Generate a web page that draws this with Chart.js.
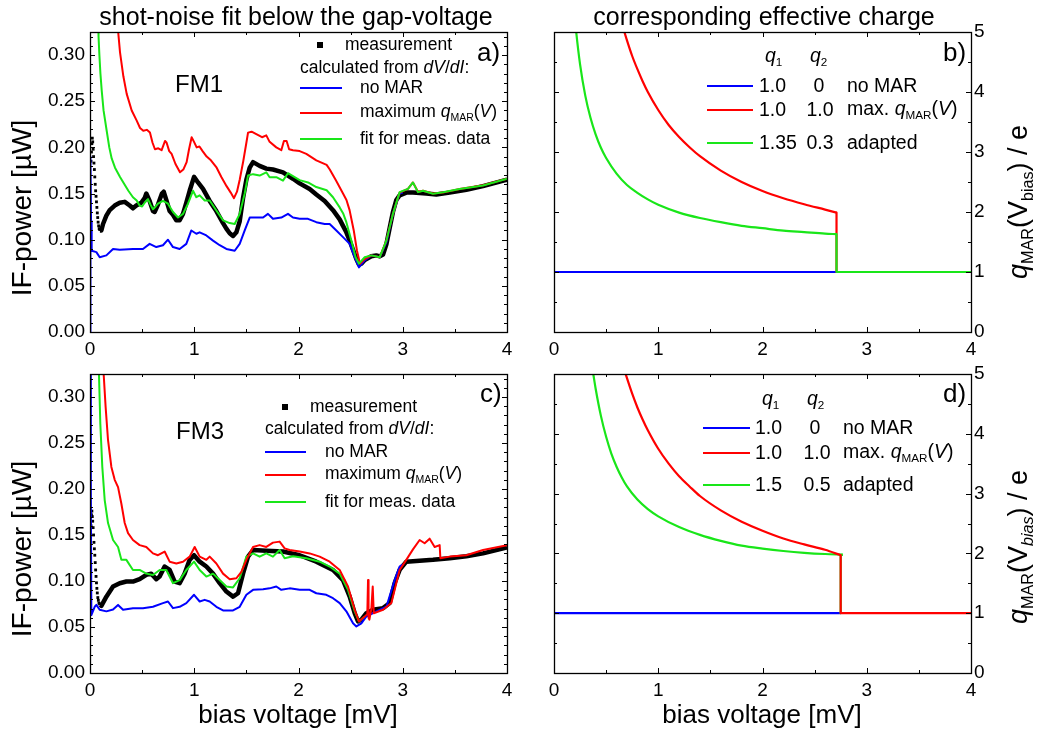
<!DOCTYPE html>
<html>
<head>
<meta charset="utf-8">
<script src="https://cdn.jsdelivr.net/npm/chart.js@4"></script>
<style>
  html, body { margin: 0; padding: 0; background: #fff; }
  #fig { position: relative; width: 1037px; height: 733px; overflow: hidden; background: #fff;
         font-family: "Liberation Sans", Arial, Helvetica, sans-serif; color: #000; }
  #fig canvas { position: absolute; left: 0; top: 0; }
  .t { position: absolute; white-space: nowrap; line-height: 1; }
  .sub { font-size: 0.6em; vertical-align: -0.35em; }
  .key { position: absolute; height: 2px; }
</style>
</head>
<body>
<div id="fig">
  <canvas id="cA" width="1037" height="733"></canvas>
  <canvas id="cB" width="1037" height="733"></canvas>
  <canvas id="cC" width="1037" height="733"></canvas>
  <canvas id="cD" width="1037" height="733"></canvas>
</div>
<script>
// ---------------- data: [bias voltage (mV), value] ----------------
// FM1: IF power (µW)
const fm1MeasLine = [[0.095,0.110],[0.109,0.110],[0.125,0.117],[0.157,0.126],[0.189,0.132],[0.237,0.137],[0.285,0.140],[0.333,0.141],[0.381,0.137],[0.412,0.134],[0.444,0.137],[0.492,0.140],[0.524,0.145],[0.540,0.150],[0.572,0.142],[0.604,0.131],[0.620,0.130],[0.652,0.138],[0.690,0.150],[0.707,0.152],[0.732,0.143],[0.764,0.131],[0.796,0.127],[0.828,0.121],[0.860,0.121],[0.892,0.128],[0.924,0.140],[0.956,0.153],[0.998,0.168],[1.036,0.162],[1.084,0.155],[1.148,0.142],[1.212,0.131],[1.276,0.118],[1.308,0.112],[1.340,0.107],[1.372,0.104],[1.404,0.108],[1.436,0.120],[1.468,0.145],[1.500,0.165],[1.532,0.178],[1.564,0.184],[1.627,0.180],[1.691,0.177],[1.755,0.176],[1.851,0.173],[1.947,0.166],[2.011,0.161],[2.107,0.155],[2.171,0.149],[2.251,0.142],[2.331,0.132],[2.395,0.122],[2.427,0.115],[2.459,0.108],[2.491,0.099],[2.523,0.089],[2.555,0.079],[2.580,0.073],[2.603,0.074],[2.635,0.078],[2.699,0.082],[2.747,0.083],[2.779,0.082],[2.811,0.084],[2.843,0.095],[2.875,0.113],[2.906,0.130],[2.938,0.143],[2.970,0.148],[3.034,0.151],[3.098,0.151],[3.226,0.150],[3.322,0.149],[3.450,0.151],[3.610,0.154],[3.770,0.158],[4.0,0.165]];
const fm1MeasDots = [[0.010,0.185],[0.014,0.195],[0.018,0.204],[0.022,0.210],[0.026,0.206],[0.030,0.198],[0.034,0.190],[0.038,0.183],[0.042,0.176],[0.046,0.168],[0.050,0.160],[0.054,0.153],[0.058,0.147],[0.062,0.141],[0.066,0.135],[0.070,0.129],[0.074,0.124],[0.078,0.119],[0.083,0.115],[0.088,0.112],[0.093,0.111]];
const fm1NoMar = [[0,0],[0.004,0.19],[0.010,0.12],[0.016,0.088],[0.061,0.0865],[0.093,0.081],[0.157,0.083],[0.221,0.090],[0.285,0.089],[0.412,0.090],[0.508,0.090],[0.572,0.0955],[0.636,0.092],[0.700,0.094],[0.748,0.100],[0.796,0.092],[0.860,0.090],[0.924,0.0955],[0.972,0.110],[1.020,0.1064],[1.052,0.108],[1.116,0.1046],[1.180,0.099],[1.244,0.094],[1.308,0.090],[1.388,0.088],[1.436,0.0955],[1.484,0.110],[1.532,0.124],[1.596,0.124],[1.660,0.124],[1.707,0.128],[1.755,0.1226],[1.835,0.124],[1.899,0.128],[1.947,0.124],[2.011,0.1226],[2.091,0.1226],[2.171,0.119],[2.251,0.117],[2.299,0.117],[2.363,0.110],[2.427,0.1028],[2.491,0.0955],[2.539,0.081],[2.580,0.070],[2.635,0.0775],[2.699,0.083],[2.779,0.081],[2.843,0.097],[2.906,0.128],[2.970,0.150],[3.0,0.151]];
const fm1MaxMar = [[0.262,0.34],[0.272,0.323],[0.288,0.303],[0.32,0.277],[0.352,0.258],[0.40,0.24],[0.448,0.229],[0.48,0.221],[0.511,0.218],[0.545,0.219],[0.575,0.216],[0.60,0.205],[0.623,0.198],[0.655,0.199],[0.687,0.197],[0.72,0.207],[0.735,0.205],[0.76,0.196],[0.783,0.193],[0.82,0.182],[0.863,0.173],[0.895,0.176],[0.927,0.184],[0.95,0.198],[0.975,0.211],[0.998,0.206],[1.023,0.200],[1.05,0.201],[1.08,0.196],[1.119,0.190],[1.16,0.186],[1.215,0.178],[1.26,0.168],[1.31,0.158],[1.35,0.151],[1.381,0.145],[1.41,0.152],[1.436,0.165],[1.47,0.185],[1.50,0.205],[1.516,0.216],[1.55,0.217],[1.6,0.214],[1.65,0.211],[1.691,0.213],[1.723,0.206],[1.787,0.200],[1.835,0.197],[1.86,0.207],[1.886,0.207],[1.91,0.198],[1.947,0.197],[2.011,0.196],[2.075,0.193],[2.171,0.186],[2.27,0.181],[2.30,0.176],[2.36,0.164],[2.427,0.150],[2.46,0.143],[2.49,0.132],[2.53,0.110],[2.561,0.088],[2.59,0.074],[2.635,0.079],[2.699,0.083],[2.779,0.081],[2.843,0.099],[2.906,0.128],[2.970,0.151],[3.050,0.155],[3.098,0.162],[3.146,0.152],[3.194,0.153],[3.290,0.150],[3.386,0.151],[3.546,0.155],[3.770,0.159],[4.0,0.166]];
const fm1Fit = [[0.078,0.34],[0.082,0.32],[0.090,0.30],[0.100,0.28],[0.112,0.262],[0.130,0.24],[0.160,0.218],[0.185,0.200],[0.208,0.188],[0.240,0.178],[0.288,0.168],[0.330,0.160],[0.368,0.153],[0.412,0.146],[0.448,0.1425],[0.476,0.137],[0.500,0.136],[0.524,0.140],[0.556,0.144],[0.580,0.138],[0.604,0.133],[0.630,0.136],[0.652,0.139],[0.700,0.142],[0.748,0.139],[0.796,0.130],[0.844,0.124],[0.892,0.128],[0.940,0.139],[0.988,0.153],[1.020,0.146],[1.052,0.148],[1.100,0.1425],[1.148,0.1425],[1.212,0.1316],[1.276,0.121],[1.340,0.118],[1.388,0.117],[1.436,0.128],[1.484,0.150],[1.516,0.1695],[1.564,0.171],[1.627,0.1695],[1.691,0.173],[1.723,0.1677],[1.787,0.1677],[1.851,0.164],[1.899,0.172],[1.963,0.1677],[2.011,0.1645],[2.091,0.162],[2.171,0.157],[2.270,0.1536],[2.331,0.146],[2.395,0.135],[2.430,0.128],[2.459,0.119],[2.507,0.099],[2.548,0.081],[2.580,0.074],[2.635,0.081],[2.699,0.083],[2.779,0.081],[2.843,0.099],[2.906,0.128],[2.970,0.1515],[3.050,0.155],[3.098,0.162],[3.146,0.1515],[3.194,0.153],[3.290,0.1497],[3.386,0.1515],[3.546,0.155],[3.770,0.1587],[4.0,0.166]];

// FM3: IF power (µW)
const fm3MeasLine = [[0.100,0.074],[0.109,0.073],[0.157,0.083],[0.221,0.094],[0.285,0.0976],[0.349,0.0994],[0.412,0.0994],[0.476,0.102],[0.540,0.1066],[0.588,0.108],[0.636,0.102],[0.668,0.1048],[0.716,0.1157],[0.764,0.112],[0.812,0.0994],[0.860,0.0976],[0.908,0.108],[0.956,0.123],[0.998,0.128],[1.052,0.121],[1.116,0.1157],[1.180,0.108],[1.244,0.0976],[1.308,0.0885],[1.372,0.083],[1.420,0.0867],[1.468,0.108],[1.516,0.1265],[1.564,0.1337],[1.691,0.133],[1.851,0.132],[2.011,0.128],[2.171,0.121],[2.331,0.112],[2.427,0.101],[2.491,0.083],[2.539,0.065],[2.571,0.056],[2.603,0.058],[2.651,0.065],[2.715,0.0687],[2.811,0.0705],[2.875,0.076],[2.922,0.0976],[2.970,0.112],[3.034,0.121],[3.162,0.122],[3.290,0.123],[3.450,0.1247],[3.610,0.127],[3.770,0.130],[4.0,0.1366]];
const fm3MeasDots = [[0.010,0.160],[0.014,0.172],[0.018,0.176],[0.022,0.170],[0.026,0.165],[0.030,0.158],[0.034,0.150],[0.038,0.142],[0.042,0.135],[0.046,0.128],[0.050,0.120],[0.054,0.112],[0.058,0.105],[0.062,0.098],[0.066,0.092],[0.070,0.087],[0.075,0.082],[0.080,0.079],[0.086,0.076],[0.092,0.075]];
const fm3NoMar = [[0.002,0.34],[0.008,0.20],[0.013,0.063],[0.045,0.072],[0.061,0.074],[0.093,0.0687],[0.157,0.067],[0.221,0.069],[0.269,0.074],[0.317,0.0687],[0.412,0.0705],[0.508,0.0705],[0.604,0.072],[0.700,0.076],[0.748,0.0777],[0.796,0.0705],[0.860,0.072],[0.924,0.076],[0.998,0.085],[1.052,0.0777],[1.100,0.0795],[1.148,0.0777],[1.212,0.072],[1.276,0.068],[1.372,0.068],[1.436,0.072],[1.500,0.085],[1.564,0.0904],[1.660,0.091],[1.723,0.092],[1.787,0.094],[1.835,0.0904],[1.915,0.092],[2.011,0.0904],[2.107,0.0904],[2.171,0.0867],[2.267,0.085],[2.331,0.0813],[2.395,0.076],[2.459,0.067],[2.523,0.054],[2.555,0.0506],[2.603,0.054],[2.651,0.0614],[2.747,0.067],[2.843,0.072],[2.922,0.101],[2.970,0.1157],[3.0,0.118]];
const fm3MaxMar = [[0.125,0.34],[0.131,0.325],[0.150,0.289],[0.173,0.253],[0.205,0.224],[0.237,0.210],[0.269,0.202],[0.301,0.184],[0.333,0.163],[0.365,0.152],[0.412,0.1446],[0.476,0.139],[0.540,0.137],[0.604,0.130],[0.652,0.128],[0.716,0.132],[0.764,0.121],[0.828,0.119],[0.892,0.121],[0.956,0.1265],[1.004,0.137],[1.052,0.1265],[1.116,0.123],[1.148,0.1265],[1.212,0.119],[1.276,0.108],[1.340,0.102],[1.404,0.103],[1.452,0.110],[1.500,0.123],[1.564,0.137],[1.627,0.139],[1.691,0.137],[1.755,0.1417],[1.819,0.1428],[1.867,0.1355],[1.915,0.1337],[2.011,0.132],[2.107,0.130],[2.203,0.1265],[2.299,0.121],[2.395,0.112],[2.475,0.094],[2.539,0.0687],[2.580,0.056],[2.635,0.0614],[2.660,0.064],[2.667,0.101],[2.672,0.060],[2.680,0.058],[2.699,0.070],[2.712,0.094],[2.722,0.065],[2.747,0.066],[2.811,0.0687],[2.891,0.076],[2.938,0.0976],[2.970,0.112],[3.034,0.123],[3.098,0.1344],[3.162,0.1446],[3.210,0.141],[3.258,0.146],[3.306,0.137],[3.354,0.139],[3.361,0.1247],[3.450,0.1265],[3.610,0.128],[3.770,0.1337],[4.0,0.139]];
const fm3Fit = [[0.083,0.34],[0.086,0.325],[0.099,0.271],[0.118,0.224],[0.141,0.188],[0.173,0.163],[0.221,0.1446],[0.269,0.137],[0.301,0.123],[0.349,0.123],[0.412,0.112],[0.476,0.112],[0.540,0.108],[0.604,0.1066],[0.668,0.112],[0.732,0.112],[0.796,0.0976],[0.860,0.101],[0.924,0.112],[0.998,0.121],[1.052,0.112],[1.116,0.1048],[1.180,0.108],[1.244,0.101],[1.308,0.094],[1.372,0.093],[1.436,0.103],[1.500,0.1265],[1.564,0.130],[1.627,0.1265],[1.691,0.130],[1.755,0.1265],[1.819,0.1337],[1.867,0.1247],[1.947,0.127],[2.075,0.1247],[2.203,0.121],[2.299,0.1157],[2.395,0.108],[2.475,0.0904],[2.539,0.067],[2.580,0.056],[2.635,0.0614]];

// FM1: effective charge q_MAR / e
const fm1QNoMar = [[0,1],[2.71,1]];
const fm1QMax = [[0.66,5.09],[0.70,4.86],[0.75,4.60],[0.80,4.38],[0.85,4.18],[0.90,4.00],[1.00,3.70],[1.10,3.45],[1.20,3.25],[1.30,3.08],[1.40,2.93],[1.60,2.69],[1.80,2.50],[2.00,2.35],[2.20,2.23],[2.40,2.13],[2.60,2.04],[2.71,1.99]];
const fm1QMaxStep = [[2.71,1.99],[2.71,1],[4,1]];
const fm1QFit = [[0.20,5.24],[0.213,5.0],[0.25,4.46],[0.30,3.94],[0.35,3.57],[0.40,3.29],[0.45,3.07],[0.50,2.90],[0.60,2.64],[0.70,2.45],[0.80,2.32],[0.90,2.21],[1.00,2.12],[1.20,1.99],[1.40,1.90],[1.60,1.83],[1.80,1.77],[2.00,1.73],[2.20,1.69],[2.40,1.665],[2.60,1.64],[2.71,1.63]];
const fm1QFitStep = [[2.71,1.63],[2.71,1],[4,1]];

// FM3: effective charge q_MAR / e
const fm3QNoMar = [[0,1],[2.75,1]];
const fm3QMax = [[0.68,5.04],[0.70,4.93],[0.75,4.67],[0.80,4.44],[0.85,4.24],[0.90,4.06],[1.00,3.75],[1.10,3.50],[1.20,3.29],[1.30,3.12],[1.40,2.96],[1.60,2.72],[1.80,2.53],[2.00,2.38],[2.20,2.25],[2.40,2.15],[2.60,2.06],[2.75,1.97]];
const fm3QMaxStep = [[2.75,1.97],[2.75,1],[4,1]];
const fm3QFit = [[0.377,5.0],[0.40,4.75],[0.45,4.30],[0.50,3.95],[0.55,3.67],[0.60,3.45],[0.65,3.27],[0.70,3.12],[0.80,2.90],[0.90,2.74],[1.00,2.62],[1.20,2.44],[1.40,2.31],[1.60,2.21],[1.80,2.13],[2.00,2.08],[2.20,2.04],[2.40,2.01],[2.60,1.99],[2.77,1.98]];
const fm3QFitStep = [[2.77,1.98],[2.75,1.97],[2.75,1]];

// axis ranges
const biasRange = [0, 4];
const powerRange = [0, 0.325];
const chargeRange = [0, 5];

// ---------------- drawing ----------------
const BLUE = '#0000ff', RED = '#ff0000', GREEN = '#19e619', BLACK = '#000000';
Chart.defaults.font.family = '"Liberation Sans", Arial, Helvetica, sans-serif';
Chart.defaults.font.size = 19;
Chart.defaults.color = '#000';

const pts = arr => arr.map(([x, y]) => ({ x, y }));

function line(data, color, width, extra) {
  return Object.assign({ data: pts(data), showLine: true, borderColor: color, backgroundColor: color,
    borderWidth: width, pointRadius: 0, tension: 0, borderJoinStyle: 'round', borderCapStyle: 'butt' }, extra || {});
}
function dots(data) {
  return { data: pts(data), showLine: false, pointStyle: 'rect', pointRadius: 2,
    backgroundColor: BLACK, borderColor: BLACK, borderWidth: 0 };
}

// box frame with inward ticks on all four sides
const framePlugin = {
  id: 'frame',
  afterDatasetsDraw(chart, args, o) {
    const { ctx, chartArea: a, scales: { x, y } } = chart;
    ctx.save();
    ctx.strokeStyle = '#000';
    ctx.lineWidth = 1;
    ctx.beginPath();
    const nx = Math.round((x.max - x.min) / o.xMinor);
    for (let i = 0; i <= nx; i++) {
      const v = x.min + i * o.xMinor;
      const major = Math.abs(v / o.xMajor - Math.round(v / o.xMajor)) < 1e-6;
      const len = major ? 5 : 3;
      const px = Math.round(x.getPixelForValue(v)) + 0.5;
      ctx.moveTo(px, a.bottom); ctx.lineTo(px, a.bottom - len);
      ctx.moveTo(px, a.top); ctx.lineTo(px, a.top + len);
    }
    const ny = Math.floor((y.max - y.min) / o.yMinor + 1e-6);
    for (let i = 0; i <= ny; i++) {
      const v = y.min + i * o.yMinor;
      const major = Math.abs(v / o.yMajor - Math.round(v / o.yMajor)) < 1e-6;
      const len = major ? 5 : 3;
      const py = Math.round(y.getPixelForValue(v)) + 0.5;
      ctx.moveTo(a.left, py); ctx.lineTo(a.left + len, py);
      ctx.moveTo(a.right, py); ctx.lineTo(a.right - len, py);
    }
    ctx.stroke();
    ctx.lineWidth = 1.3;
    ctx.strokeRect(Math.round(a.left) + 0.5, Math.round(a.top) + 0.5,
                   Math.round(a.right - a.left), Math.round(a.bottom - a.top));
    ctx.restore();
  }
};

function makeChart(id, datasets, cfg) {
  const isPower = cfg.kind === 'power';
  return new Chart(document.getElementById(id), {
    type: 'scatter',
    data: { datasets },
    plugins: [framePlugin],
    options: {
      responsive: false, animation: false, devicePixelRatio: 1,
      layout: { padding: cfg.padding },
      plugins: { legend: { display: false }, tooltip: { enabled: false },
        frame: isPower ? { xMinor: 0.5, xMajor: 1, yMinor: 0.01, yMajor: 0.05 }
                       : { xMinor: 0.5, xMajor: 1, yMinor: 0.5, yMajor: 1 } },
      scales: {
        x: {
          type: 'linear', min: biasRange[0], max: biasRange[1],
          grid: { display: false, drawTicks: false }, border: { display: false },
          ticks: { stepSize: 1, padding: 6, callback: v => String(v), maxRotation: 0 },
          afterFit: s => { s.height = cfg.xHeight; }
        },
        y: {
          type: 'linear', position: isPower ? 'left' : 'right',
          min: isPower ? powerRange[0] : chargeRange[0], max: isPower ? powerRange[1] : chargeRange[1],
          grid: { display: false, drawTicks: false }, border: { display: false },
          ticks: isPower
            ? { stepSize: 0.05, padding: 5, autoSkip: false,
                callback: v => (Math.abs(v / 0.05 - Math.round(v / 0.05)) < 1e-6 ? v.toFixed(2) : '') }
            : { stepSize: 1, padding: 3, callback: v => String(v) },
          afterFit: s => { s.width = cfg.yWidth; }
        }
      }
    }
  });
}

// a) FM1 IF power
makeChart('cA', [
  line(fm1Fit, GREEN, 2),
  line(fm1MaxMar, RED, 2),
  line(fm1NoMar, BLUE, 2),
  dots(fm1MeasDots),
  line(fm1MeasLine, BLACK, 4.5)
], { kind: 'power', padding: { left: 0, right: 530, top: 32, bottom: 373 }, xHeight: 28, yWidth: 90 });

// b) FM1 effective charge
makeChart('cB', [
  line(fm1QFitStep, GREEN, 2.2),
  line(fm1QFit, GREEN, 2.2, { cubicInterpolationMode: 'monotone' }),
  line(fm1QMaxStep, RED, 2.2),
  line(fm1QMax, RED, 2.2, { cubicInterpolationMode: 'monotone' }),
  line(fm1QNoMar, BLUE, 2.2)
], { kind: 'charge', padding: { left: 554, right: 0, top: 32, bottom: 373 }, xHeight: 28, yWidth: 66 });

// c) FM3 IF power
makeChart('cC', [
  line(fm3MaxMar, RED, 2),
  line(fm3Fit, GREEN, 2),
  line(fm3NoMar, BLUE, 2),
  dots(fm3MeasDots),
  line(fm3MeasLine, BLACK, 4.5)
], { kind: 'power', padding: { left: 0, right: 530, top: 374, bottom: 0 }, xHeight: 60, yWidth: 90 });

// d) FM3 effective charge
makeChart('cD', [
  line(fm3QMaxStep, RED, 2.2),
  line(fm3QMax, RED, 2.2, { cubicInterpolationMode: 'monotone' }),
  line(fm3QFitStep, GREEN, 2.2),
  line(fm3QFit, GREEN, 2.2, { cubicInterpolationMode: 'monotone' }),
  line(fm3QNoMar, BLUE, 2.2)
], { kind: 'charge', padding: { left: 554, right: 0, top: 374, bottom: 0 }, xHeight: 60, yWidth: 66 });

// ---------------- text, legends ----------------
const fig = document.getElementById('fig');
function text(html, x, y, size, anchor) {
  const d = document.createElement('div');
  d.className = 't';
  d.innerHTML = html;
  d.style.left = x + 'px';
  d.style.top = y + 'px';
  d.style.fontSize = size + 'px';
  const tx = anchor === 'center' ? '-50%' : (anchor === 'right' ? '-100%' : '0');
  d.style.transform = 'translate(' + tx + ',-50%)';
  fig.appendChild(d);
  return d;
}
function rotated(html, x, y, size) {
  const d = document.createElement('div');
  d.className = 't';
  d.innerHTML = html;
  d.style.left = x + 'px';
  d.style.top = y + 'px';
  d.style.fontSize = size + 'px';
  d.style.transform = 'translate(-50%,-50%) rotate(-90deg)';
  fig.appendChild(d);
}
function key(x1, x2, y, color) {
  const d = document.createElement('div');
  d.className = 'key';
  d.style.left = x1 + 'px';
  d.style.top = (y - 1) + 'px';
  d.style.width = (x2 - x1) + 'px';
  d.style.background = color;
  fig.appendChild(d);
}
function marker(x, y) {
  const d = document.createElement('div');
  d.style.cssText = 'position:absolute;width:6px;height:6px;background:#000;left:' + (x - 3) + 'px;top:' + (y - 3) + 'px';
  fig.appendChild(d);
}
const sub = s => '<span class="sub">' + s + '</span>';
const qMAR = '<i>q</i>' + sub('MAR');

// titles and axis titles
text('shot-noise fit below the gap-voltage', 296, 16, 25, 'center');
text('corresponding effective charge', 764, 16, 25, 'center');
text('bias voltage [mV]', 298, 714, 26, 'center');
text('bias voltage [mV]', 762, 714, 26, 'center');
rotated('IF-power [µW]', 22, 208, 28);
rotated('IF-power [µW]', 22, 549, 28);
rotated(qMAR + '(V' + sub('bias') + ') / e', 1020, 202, 27);
rotated(qMAR + '(V' + sub('<i>bias</i>') + ') / e', 1020, 547, 27);

// panel letters and sample names
text('a)', 477, 52, 26, 'left');
text('b)', 943, 52, 26, 'left');
text('c)', 480, 393, 26, 'left');
text('d)', 943, 393, 26, 'left');
text('FM1', 199, 84, 24, 'center');
text('FM3', 200, 431, 24, 'center');

// legend a)
const calcFrom = 'calculated from <i>dV</i>/<i>dI</i>:';
const maxLabel = 'maximum ' + qMAR + '(<i>V</i>)';
marker(320, 45); text('measurement', 345, 45, 17.5, 'left');
text(calcFrom, 300, 68, 17.5, 'left');
key(300, 342, 88, BLUE);  text('no MAR', 360, 88, 17.5, 'left');
key(300, 342, 113, RED);  text(maxLabel, 360, 113, 17.5, 'left');
key(300, 342, 139, GREEN); text('fit for meas. data', 360, 139, 17.5, 'left');

// legend c)
marker(285, 407); text('measurement', 310, 407, 17.5, 'left');
text(calcFrom, 265, 429, 17.5, 'left');
key(265, 306, 452, BLUE);  text('no MAR', 325, 452, 17.5, 'left');
key(265, 306, 475, RED);   text(maxLabel, 325, 475, 17.5, 'left');
key(265, 306, 502, GREEN); text('fit for meas. data', 325, 502, 17.5, 'left');

// legend b)
text('<i>q</i>' + sub('1'), 765, 57, 19.5, 'left');
text('<i>q</i>' + sub('2'), 810, 57, 19.5, 'left');
key(707, 753, 86, BLUE);  text('1.0', 759, 86, 19.5, 'left');  text('0', 819, 86, 19.5, 'center');   text('no MAR', 847, 86, 19.5, 'left');
key(707, 753, 110, RED);  text('1.0', 759, 110, 19.5, 'left'); text('1.0', 820, 110, 19.5, 'center'); text('max. ' + qMAR + '(<i>V</i>)', 847, 110, 19.5, 'left');
key(707, 753, 143, GREEN); text('1.35', 759, 143, 19.5, 'left'); text('0.3', 820, 143, 19.5, 'center'); text('adapted', 847, 143, 19.5, 'left');

// legend d)
text('<i>q</i>' + sub('1'), 762, 400, 19.5, 'left');
text('<i>q</i>' + sub('2'), 807, 400, 19.5, 'left');
key(703, 750, 428, BLUE);  text('1.0', 755, 428, 19.5, 'left'); text('0', 815, 428, 19.5, 'center');   text('no MAR', 843, 428, 19.5, 'left');
key(703, 750, 453, RED);   text('1.0', 755, 453, 19.5, 'left'); text('1.0', 817, 453, 19.5, 'center'); text('max. ' + qMAR + '(<i>V</i>)', 843, 453, 19.5, 'left');
key(703, 750, 485, GREEN); text('1.5', 755, 485, 19.5, 'left'); text('0.5', 817, 485, 19.5, 'center'); text('adapted', 843, 485, 19.5, 'left');
</script>
</body>
</html>
